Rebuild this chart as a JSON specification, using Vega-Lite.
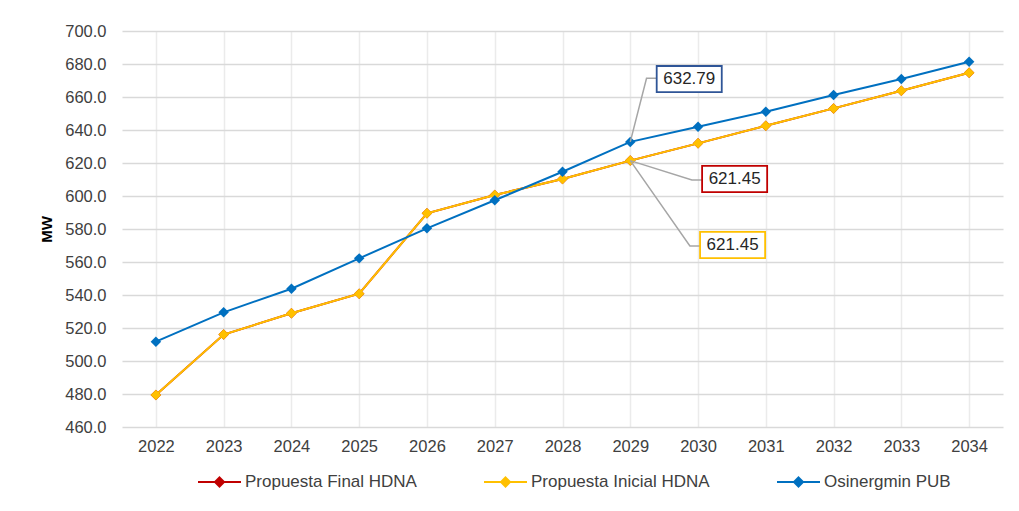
{
  "$schema": "https://vega.github.io/schema/vega-lite/v6.json",
  "width": 881,
  "height": 396,
  "autosize": {"type": "none"},
  "padding": {"left": 122, "top": 31, "right": 16, "bottom": 84},
  "background": "white",
  "datasets": {
    "series": [
      {"series": "Propuesta Final HDNA", "year": 2022, "value": 479.4},
      {"series": "Propuesta Final HDNA", "year": 2023, "value": 516.0},
      {"series": "Propuesta Final HDNA", "year": 2024, "value": 528.9},
      {"series": "Propuesta Final HDNA", "year": 2025, "value": 540.8},
      {"series": "Propuesta Final HDNA", "year": 2026, "value": 589.5},
      {"series": "Propuesta Final HDNA", "year": 2027, "value": 600.6},
      {"series": "Propuesta Final HDNA", "year": 2028, "value": 610.3},
      {"series": "Propuesta Final HDNA", "year": 2029, "value": 621.45},
      {"series": "Propuesta Final HDNA", "year": 2030, "value": 631.9},
      {"series": "Propuesta Final HDNA", "year": 2031, "value": 642.6},
      {"series": "Propuesta Final HDNA", "year": 2032, "value": 653.1},
      {"series": "Propuesta Final HDNA", "year": 2033, "value": 663.8},
      {"series": "Propuesta Final HDNA", "year": 2034, "value": 674.7},
      {"series": "Propuesta Inicial HDNA", "year": 2022, "value": 479.4},
      {"series": "Propuesta Inicial HDNA", "year": 2023, "value": 516.0},
      {"series": "Propuesta Inicial HDNA", "year": 2024, "value": 528.9},
      {"series": "Propuesta Inicial HDNA", "year": 2025, "value": 540.8},
      {"series": "Propuesta Inicial HDNA", "year": 2026, "value": 589.5},
      {"series": "Propuesta Inicial HDNA", "year": 2027, "value": 600.6},
      {"series": "Propuesta Inicial HDNA", "year": 2028, "value": 610.3},
      {"series": "Propuesta Inicial HDNA", "year": 2029, "value": 621.45},
      {"series": "Propuesta Inicial HDNA", "year": 2030, "value": 631.9},
      {"series": "Propuesta Inicial HDNA", "year": 2031, "value": 642.6},
      {"series": "Propuesta Inicial HDNA", "year": 2032, "value": 653.1},
      {"series": "Propuesta Inicial HDNA", "year": 2033, "value": 663.8},
      {"series": "Propuesta Inicial HDNA", "year": 2034, "value": 674.7},
      {"series": "Osinergmin PUB", "year": 2022, "value": 511.7},
      {"series": "Osinergmin PUB", "year": 2023, "value": 529.5},
      {"series": "Osinergmin PUB", "year": 2024, "value": 543.8},
      {"series": "Osinergmin PUB", "year": 2025, "value": 562.2},
      {"series": "Osinergmin PUB", "year": 2026, "value": 580.4},
      {"series": "Osinergmin PUB", "year": 2027, "value": 597.4},
      {"series": "Osinergmin PUB", "year": 2028, "value": 614.7},
      {"series": "Osinergmin PUB", "year": 2029, "value": 632.79},
      {"series": "Osinergmin PUB", "year": 2030, "value": 642.0},
      {"series": "Osinergmin PUB", "year": 2031, "value": 651.1},
      {"series": "Osinergmin PUB", "year": 2032, "value": 661.2},
      {"series": "Osinergmin PUB", "year": 2033, "value": 670.9},
      {"series": "Osinergmin PUB", "year": 2034, "value": 681.4}
    ],
    "leaders": [
      {"callout": "PUB", "ord": 1, "year": 2029, "value": 632.79},
      {"callout": "PUB", "ord": 2, "year": 2029.24, "value": 671.3},
      {"callout": "PUB", "ord": 3, "year": 2029.39, "value": 671.3},
      {"callout": "Final", "ord": 1, "year": 2029, "value": 621.45},
      {"callout": "Final", "ord": 2, "year": 2029.91, "value": 609.7},
      {"callout": "Final", "ord": 3, "year": 2030.06, "value": 609.7},
      {"callout": "Inicial", "ord": 1, "year": 2029, "value": 621.45},
      {"callout": "Inicial", "ord": 2, "year": 2029.88, "value": 569.7},
      {"callout": "Inicial", "ord": 3, "year": 2030.03, "value": 569.7}
    ],
    "boxes": [
      {"series": "Osinergmin PUB", "year": 2029.39, "year2": 2030.35, "value": 678.8, "value2": 663.0},
      {"series": "Propuesta Final HDNA", "year": 2030.06, "year2": 2031.02, "value": 618.2, "value2": 602.4},
      {"series": "Propuesta Inicial HDNA", "year": 2030.03, "year2": 2030.99, "value": 578.2, "value2": 562.4}
    ],
    "labels": [
      {"label": "632.79", "year": 2029.87, "value": 670.9},
      {"label": "621.45", "year": 2030.54, "value": 610.3},
      {"label": "621.45", "year": 2030.51, "value": 570.3}
    ]
  },
  "config": {
    "font": "Liberation Sans",
    "view": {"stroke": null},
    "axis": {
      "labelFont": "Liberation Sans",
      "labelFontSize": 16.5,
      "labelColor": "#404040",
      "ticks": false,
      "domain": false
    }
  },
  "encoding": {
    "x": {
      "field": "year", "type": "quantitative",
      "scale": {"domain": [2021.5, 2034.5], "nice": false, "zero": false},
      "axis": {
        "values": [2022, 2023, 2024, 2025, 2026, 2027, 2028, 2029, 2030, 2031, 2032, 2033, 2034],
        "format": "d", "title": null, "grid": true, "gridColor": "#ebebeb", "gridWidth": 1.5,
        "labelPadding": 11, "labelFlush": false
      }
    },
    "y": {
      "field": "value", "type": "quantitative",
      "scale": {"domain": [460, 700], "nice": false, "zero": false},
      "axis": {
        "values": [460, 480, 500, 520, 540, 560, 580, 600, 620, 640, 660, 680, 700],
        "format": ".1f", "title": "MW", "titleFontSize": 15, "titleFontWeight": "bold",
        "titleColor": "#000000", "titleFont": "Liberation Sans", "titlePadding": 10,
        "grid": true, "gridColor": "#d9d9d9", "gridWidth": 1.5, "labelPadding": 16
      }
    }
  },
  "layer": [
    {
      "data": {"name": "series"},
      "transform": [{"filter": "datum.series === 'Propuesta Final HDNA'"}],
      "mark": {"type": "line", "strokeWidth": 2, "point": {"shape": "diamond", "filled": true, "size": 110, "opacity": 1}},
      "encoding": {
        "color": {
          "field": "series", "type": "nominal",
          "scale": {"domain": ["Propuesta Final HDNA", "Propuesta Inicial HDNA", "Osinergmin PUB"], "range": ["#c00000", "#ffc000", "#0070c0"]},
          "legend": {
            "orient": "none", "legendX": 75, "legendY": 428, "direction": "horizontal", "title": null,
            "symbolType": "M-1,0L1,0M0,-0.21L0.21,0L0,0.21L-0.21,0Z", "symbolSize": 1849, "symbolStrokeWidth": 2,
            "labelFontSize": 17, "labelColor": "#404040", "labelFont": "Liberation Sans", "labelOffset": 3,
            "columnPadding": 63, "labelLimit": 400, "padding": 0, "symbolOpacity": 1,
            "encode": {"symbols": {"update": {"fill": {"scale": "color", "field": "value"}, "opacity": {"value": 1}}}}
          }
        }
      }
    },
    {
      "data": {"name": "series"},
      "transform": [{"filter": "datum.series === 'Propuesta Inicial HDNA'"}],
      "mark": {"type": "line", "strokeWidth": 2, "point": {"shape": "diamond", "filled": true, "size": 110, "opacity": 1}},
      "encoding": {
        "color": {"field": "series", "type": "nominal"}
      }
    },
    {
      "data": {"name": "series"},
      "transform": [{"filter": "datum.series === 'Osinergmin PUB'"}],
      "mark": {"type": "line", "strokeWidth": 2, "point": {"shape": "diamond", "filled": true, "size": 110, "opacity": 1}},
      "encoding": {
        "color": {"field": "series", "type": "nominal"}
      }
    },
    {
      "data": {"name": "leaders"},
      "mark": {"type": "line", "color": "#a6a6a6", "strokeWidth": 1.5},
      "encoding": {
        "detail": {"field": "callout", "type": "nominal"},
        "order": {"field": "ord", "type": "quantitative"}
      }
    },
    {
      "data": {"name": "boxes"},
      "mark": {"type": "rect", "fill": "white", "strokeWidth": 1.8},
      "encoding": {
        "x2": {"field": "year2"},
        "y2": {"field": "value2"},
        "stroke": {
          "field": "series", "type": "nominal",
          "scale": {"domain": ["Propuesta Final HDNA", "Propuesta Inicial HDNA", "Osinergmin PUB"], "range": ["#c00000", "#ffc000", "#2f5597"]},
          "legend": null
        }
      }
    },
    {
      "data": {"name": "labels"},
      "mark": {"type": "text", "fontSize": 17, "color": "#262626", "font": "Liberation Sans", "align": "center", "baseline": "middle"},
      "encoding": {
        "text": {"field": "label"}
      }
    }
  ]
}
